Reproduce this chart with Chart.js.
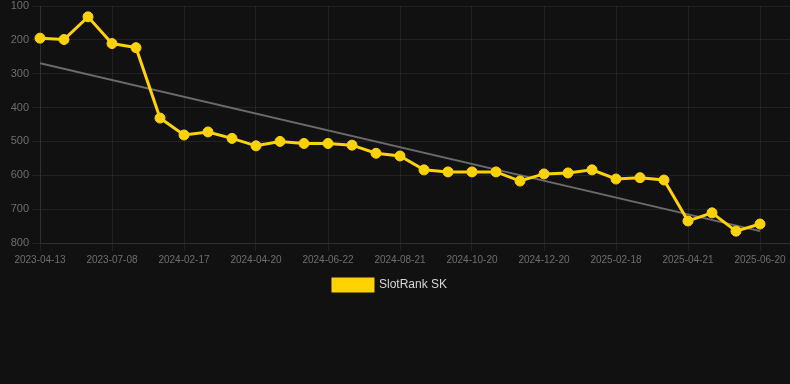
<!DOCTYPE html>
<html>
<head>
<meta charset="utf-8">
<script src="https://cdn.jsdelivr.net/npm/chart.js@4"></script>
<style>
  html, body { margin: 0; padding: 0; background: #111111; }
  #wrap { width: 790px; height: 301px; }
</style>
</head>
<body>
<div id="wrap"><canvas id="myChart"></canvas></div>
<script>
const dates = [
  "2023-04-13", "2023-05-11", "2023-06-09", "2023-07-08", "2023-08-12",
  "2024-01-28", "2024-02-17", "2024-03-08", "2024-03-30", "2024-04-20",
  "2024-05-11", "2024-06-01", "2024-06-22", "2024-07-12", "2024-08-01",
  "2024-08-21", "2024-09-10", "2024-09-30", "2024-10-20", "2024-11-09",
  "2024-11-30", "2024-12-20", "2025-01-09", "2025-01-29", "2025-02-18",
  "2025-03-10", "2025-03-31", "2025-04-21", "2025-05-11", "2025-05-31",
  "2025-06-20",
]
const ranks = [
  195, 199, 132, 211, 223,
  431, 481, 472, 491, 513,
  500, 506, 506, 511, 535,
  543, 584, 590, 590, 590,
  617, 596, 593, 584, 611,
  607, 614, 735, 711, 765,
  744,
]
// trend line end points
const trendStart = 269
const trendEnd = 765
const yTicks = [100, 200, 300, 400, 500, 600, 700, 800]

const gold = "#FFD200"
const rankPoints = ranks.map((v, i) => ({ x: i, y: v }))
const trendPoints = [
  { x: 0, y: trendStart },
  { x: dates.length - 1, y: trendEnd },
]

const config = {
  type: "line",
  data: {
    datasets: [
      {
        label: "SlotRank SK",
        data: rankPoints,
        borderColor: gold,
        backgroundColor: gold,
        borderWidth: 3,
        pointRadius: 5,
        pointBorderWidth: 1,
        pointBackgroundColor: gold,
        pointBorderColor: gold,
        tension: 0,
        clip: false,
        order: 1,
      },
      {
        label: "trend",
        data: trendPoints,
        borderColor: "#6b6b6b",
        borderWidth: 2,
        pointRadius: 0,
        fill: false,
        order: 2,
      },
    ],
  },
  options: {
    responsive: true,
    maintainAspectRatio: false,
    animation: false,
    layout: {
      autoPadding: false,
      padding: { left: -10, right: 0, top: 0, bottom: 0 },
    },
    plugins: {
      legend: {
        position: "bottom",
        labels: {
          color: "#d6d6d6",
          font: { size: 12, family: "Liberation Sans, Arial, sans-serif" },
          filter: item => item.text !== "trend",
        },
      },
      tooltip: { enabled: false },
    },
    scales: {
      x: {
        type: "linear",
        bounds: "data",
        min: 0,
        max: 31.25,
        grid: { color: "rgba(255,255,255,0.07)" },
        border: { color: "rgba(255,255,255,0.07)" },
        afterFit: s => {
          s.paddingLeft = 0
          s.paddingRight = 0
        },
        ticks: {
          stepSize: 3,
          includeBounds: false,
          autoSkip: false,
          maxRotation: 0,
          color: "#6e6e6e",
          font: { size: 10, family: "Liberation Sans, Arial, sans-serif" },
          callback: v => dates[v] || "",
        },
      },
      y: {
        reverse: true,
        min: yTicks[0],
        max: yTicks[yTicks.length - 1],
        grid: { color: "rgba(255,255,255,0.07)" },
        border: { color: "rgba(255,255,255,0.07)" },
        afterFit: s => {
          s.width = 50
          s.paddingTop = 6
        },
        ticks: {
          stepSize: 100,
          color: "#6e6e6e",
          font: { size: 11, family: "Liberation Sans, Arial, sans-serif" },
        },
      },
    },
  },
}

new Chart(document.getElementById("myChart"), config)
</script>
</body>
</html>
